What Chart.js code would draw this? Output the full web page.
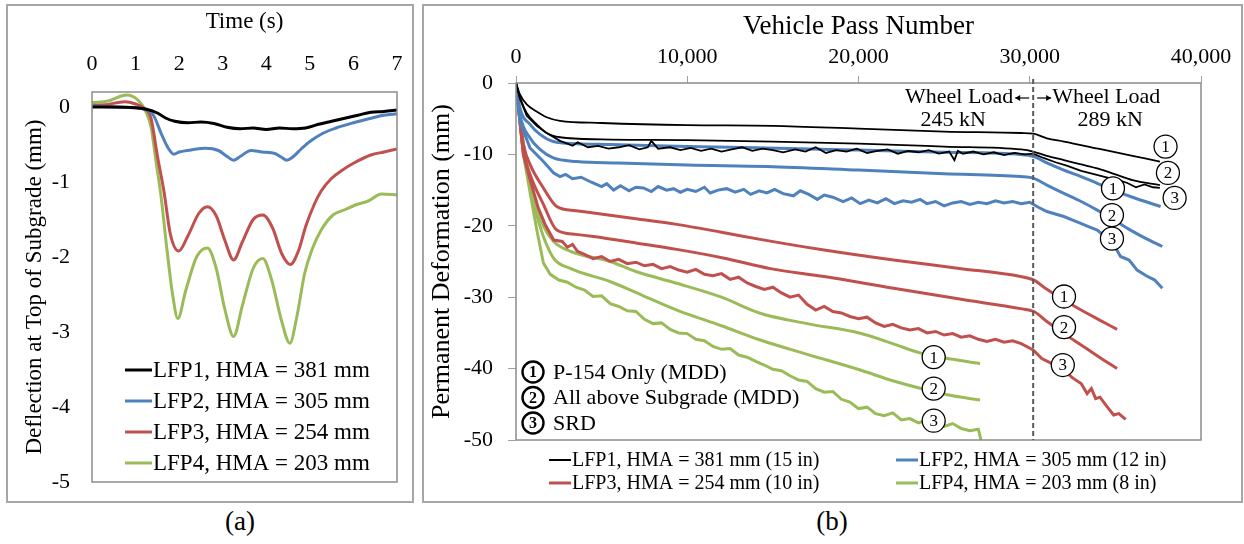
<!DOCTYPE html>
<html>
<head>
<meta charset="utf-8">
<script src="https://cdn.jsdelivr.net/npm/chart.js@4.4.0/dist/chart.umd.min.js"></script>
<style>
  body { margin: 0; background: #fff; width: 1244px; height: 544px; position: relative; overflow: hidden;
         font-family: 'Liberation Serif', 'Times New Roman', serif; }
  .box { position: absolute; border: 2px solid #a6a6a6; box-sizing: border-box; }
  canvas { position: absolute; }
  .cap { position: absolute; font-size: 27px; transform: translateX(-50%); }
</style>
</head>
<body>
<div class="box" style="left:6px;top:4px;width:408px;height:499px"></div>
<div class="box" style="left:422px;top:4px;width:821px;height:499px"></div>
<canvas id="chartA" width="406" height="497" style="left:7px;top:5px"></canvas>
<canvas id="chartB" width="820" height="497" style="left:423px;top:5px"></canvas>
<div class="cap" style="left:240px;top:506px">(a)</div>
<div class="cap" style="left:832px;top:506px">(b)</div>

<script>
const FONT = "'Liberation Serif', 'Times New Roman', serif";

// ---------- (a) deflection at top of subgrade ----------
const TIME_TICKS = [0, 1, 2, 3, 4, 5, 6, 7];
const DEFL_TICKS = [0, -1, -2, -3, -4, -5];

const T_LFP1 = [0, 0.5, 1.0, 1.25, 1.5, 1.7, 1.9, 2.2, 2.5, 2.8, 3.1, 3.4, 3.7, 4.0, 4.3, 4.6, 4.9, 5.2, 5.5, 5.8, 6.1, 6.4, 6.7, 7.0];
const D_LFP1 = [0, 0, -0.01, -0.03, -0.08, -0.15, -0.19, -0.21, -0.2, -0.22, -0.27, -0.29, -0.28, -0.3, -0.28, -0.29, -0.28, -0.23, -0.19, -0.15, -0.11, -0.07, -0.06, -0.04];

const T_LFP2 = [0, 0.5, 1.0, 1.2, 1.4, 1.6, 1.75, 1.88, 2.0, 2.3, 2.6, 2.9, 3.1, 3.25, 3.4, 3.65, 3.9, 4.2, 4.35, 4.47, 4.6, 4.8, 5.0, 5.3, 5.6, 6.0, 6.4, 6.7, 7.0];
const D_LFP2 = [0.01, 0, -0.01, -0.03, -0.1, -0.37, -0.55, -0.63, -0.6, -0.57, -0.55, -0.58, -0.66, -0.71, -0.66, -0.58, -0.6, -0.62, -0.67, -0.71, -0.67, -0.56, -0.46, -0.35, -0.28, -0.21, -0.15, -0.11, -0.09];

const T_LFP3 = [0, 0.3, 0.75, 1.0, 1.2, 1.35, 1.5, 1.65, 1.8, 1.99, 2.2, 2.45, 2.65, 2.85, 3.05, 3.25, 3.45, 3.7, 3.92, 4.15, 4.35, 4.55, 4.75, 4.9, 5.1, 5.26, 5.5, 5.75, 6.0, 6.4, 6.7, 7.0];
const D_LFP3 = [0.02, 0.03, 0.07, 0.04, -0.02, -0.14, -0.65, -1.12, -1.7, -1.92, -1.72, -1.42, -1.33, -1.45, -1.78, -2.04, -1.8, -1.5, -1.44, -1.62, -1.95, -2.1, -1.9, -1.6, -1.3, -1.12, -0.95, -0.84, -0.75, -0.64, -0.6, -0.56];

const T_LFP4 = [0, 0.37, 0.79, 1.06, 1.25, 1.36, 1.47, 1.58, 1.72, 1.85, 1.97, 2.15, 2.4, 2.65, 2.85, 3.05, 3.25, 3.45, 3.7, 3.92, 4.12, 4.35, 4.54, 4.7, 4.88, 5.05, 5.26, 5.53, 5.8, 6.03, 6.35, 6.64, 7.0];
const D_LFP4 = [0.06, 0.08, 0.16, 0.09, -0.08, -0.28, -0.73, -1.17, -1.9, -2.5, -2.82, -2.45, -2.0, -1.88, -2.15, -2.7, -3.06, -2.65, -2.15, -2.02, -2.3, -2.85, -3.15, -2.8, -2.22, -1.9, -1.64, -1.44, -1.37, -1.31, -1.25, -1.16, -1.17];

const NAMES_A = ['LFP1, HMA = 381 mm', 'LFP2, HMA = 305 mm', 'LFP3, HMA = 254 mm', 'LFP4, HMA = 203 mm'];

// ---------- (b) permanent deformation ----------
const PASS_TICKS = [0, 10000, 20000, 30000, 40000];
const PD_TICKS = [0, -10, -20, -30, -40, -50];
const LOAD_CHANGE = 30200;   // pass number where wheel load went 245 -> 289 kN

// LFP1: 1 = P-154 only (MDD), 2 = all above subgrade (MDD), 3 = SRD
const N_B1_1 = [0, 230, 625, 1210, 1790, 2570, 5000, 10000, 15000, 20000, 25000, 29500, 30200, 31000, 32000, 34000, 36000, 37600];
const V_B1_1 = [0, -1.6, -3.0, -4.0, -4.8, -5.3, -5.6, -5.9, -6.0, -6.4, -6.8, -7.0, -7.1, -7.75, -8.2, -9.2, -10.2, -11.0];
const N_B1_2 = [0, 230, 625, 1210, 1790, 2570, 5000, 10000, 15000, 20000, 25000, 29500, 30200, 31000, 32000, 33000, 34000, 35000, 36000, 37600];
const V_B1_2 = [0, -2.0, -4.2, -5.8, -7.0, -7.6, -7.9, -8.0, -8.2, -8.5, -8.9, -9.3, -9.6, -10.2, -10.8, -11.4, -12.0, -12.8, -13.6, -14.3];
const N_B1_3 = [0, 230, 625, 1210, 1790, 2570, 3000, 3300, 3600, 4200, 4800, 5400, 6000, 6600, 7200, 7700, 7900, 8300, 9000, 9600, 10200, 10800, 11400, 12000, 12600, 13200, 13800, 14400, 15000, 15600, 16300, 16900, 17500, 18100, 18700, 19300, 19900, 20500, 21100, 21700, 22300, 22900, 23500, 24100, 24700, 25300, 25600, 25800, 26100, 26700, 27300, 27900, 28500, 29100, 29700, 30200, 30800, 31500, 32200, 33000, 33800, 34600, 35200, 35700, 36200, 36700, 37200, 37600];
const V_B1_3 = [0, -2.2, -4.6, -6.0, -7.0, -8.1, -8.5, -8.8, -8.3, -9.0, -8.8, -9.2, -9.0, -8.7, -9.3, -9.0, -8.1, -9.2, -9.0, -9.4, -9.1, -9.5, -9.2, -9.6, -9.3, -9.0, -9.5, -9.2, -9.4, -9.7, -9.3, -9.6, -9.0, -9.8, -9.4, -9.6, -9.2, -9.8, -9.5, -9.3, -9.9, -9.5, -9.7, -9.4, -9.9, -9.6, -10.8, -9.5, -9.9, -9.6, -10.0, -9.7, -10.1, -9.8, -10.0, -9.9, -10.5, -11.1, -11.6, -12.3, -12.8, -13.3, -13.6, -14.0, -14.6, -14.2, -14.6, -14.7];

// LFP2
const N_B2_1 = [0, 230, 820, 1400, 2180, 3500, 5490, 10000, 14650, 20000, 25000, 29460, 30240, 31000, 31990, 33000, 33940, 35000, 36000, 37640];
const V_B2_1 = [0, -3.5, -5.8, -7.2, -8.2, -8.5, -8.6, -8.9, -9.1, -9.4, -9.7, -10.0, -10.3, -11.2, -12.2, -13.1, -14.05, -15.1, -16.0, -17.3];
const N_B2_2 = [0, 230, 820, 1400, 2180, 3550, 6000, 10000, 14650, 20000, 25000, 29460, 30240, 31000, 31990, 33000, 33940, 35000, 35880, 36800, 37740];
const V_B2_2 = [0, -4.4, -7.7, -9.3, -10.5, -11.0, -11.2, -11.5, -11.7, -12.2, -12.7, -13.1, -13.35, -14.3, -15.45, -16.6, -17.8, -19.3, -20.6, -21.8, -22.9];
const N_B2_3 = [0, 230, 820, 1600, 2200, 2570, 2900, 3300, 3800, 4400, 5000, 5300, 5700, 6100, 6600, 7000, 7440, 7900, 8300, 8800, 9200, 9600, 10000, 10500, 11000, 11340, 11800, 12300, 12800, 13300, 13700, 14200, 14650, 15100, 15600, 16200, 16600, 17100, 17600, 18000, 18500, 19100, 19600, 20100, 20600, 21100, 21600, 22100, 22600, 23100, 23600, 24000, 24500, 25000, 25500, 26000, 26500, 27000, 27500, 28000, 28500, 29000, 29500, 30000, 30500, 31000, 31990, 32800, 33500, 33940, 34400, 34900, 35300, 35800, 36270, 36800, 37300, 37740];
const V_B2_3 = [0, -5.4, -9.1, -11.0, -12.6, -13.1, -12.8, -13.4, -13.2, -13.9, -14.5, -14.1, -15.0, -14.4, -15.1, -14.6, -14.7, -15.2, -14.5, -15.0, -14.8, -15.3, -14.9, -15.2, -14.6, -15.4, -15.0, -14.8, -15.3, -14.9, -15.6, -15.1, -15.4, -14.9, -15.5, -15.8, -15.1, -15.6, -16.3, -15.7, -16.0, -16.6, -16.1, -16.9, -16.4, -16.8, -16.2, -16.9, -16.5, -16.7, -16.3, -16.9, -16.6, -17.2, -16.8, -16.6, -17.0, -16.7, -16.9, -16.5, -16.8, -16.6, -16.9, -16.7, -17.4, -18.0, -18.7, -19.5, -20.2, -20.6, -21.5, -22.6, -24.3, -24.8, -26.2, -27.0, -27.6, -28.75];

// LFP3
const N_B3_1 = [0, 430, 820, 1600, 2380, 3500, 4520, 7000, 9390, 12000, 14260, 18000, 22050, 26000, 29460, 30240, 31000, 31990, 33000, 34000, 35100];
const V_B3_1 = [0, -8.5, -11.4, -14.7, -17.3, -17.9, -18.2, -19.0, -19.8, -20.9, -21.9, -23.4, -24.8, -26.0, -27.1, -27.6, -28.9, -30.4, -31.8, -33.1, -34.5];
const N_B3_2 = [0, 430, 820, 1600, 2380, 3500, 4520, 7000, 9390, 12100, 14850, 18000, 22050, 26000, 29460, 30240, 31000, 32000, 33000, 34000, 35100];
const V_B3_2 = [0, -9.5, -12.8, -17.0, -20.6, -21.2, -21.5, -22.4, -23.3, -24.5, -26.0, -27.1, -28.75, -30.3, -31.6, -32.0, -33.4, -35.1, -36.7, -38.3, -40.0];
const N_B3_3 = [0, 430, 820, 1300, 1700, 2200, 2700, 3000, 3300, 3600, 4000, 4500, 5000, 5500, 6000, 6500, 7000, 7500, 8000, 8500, 9000, 9500, 10000, 10500, 11000, 11500, 12000, 12500, 13000, 13500, 14000, 14500, 15000, 15500, 16000, 16500, 17000, 17500, 18000, 18500, 19000, 19500, 20000, 20500, 21000, 21500, 22000, 22500, 23000, 23500, 24000, 24500, 25000, 25500, 26000, 26500, 27000, 27500, 28000, 28500, 29000, 29500, 30200, 30700, 31300, 31990, 32500, 33000, 33350, 33600, 33850, 34100, 34500, 34900, 35200, 35600];
const V_B3_3 = [0, -10.0, -13.5, -17.5, -19.8, -22.0, -22.2, -23.0, -22.6, -23.6, -24.0, -24.6, -24.3, -25.0, -24.7, -25.3, -25.1, -25.6, -25.4, -26.0, -25.7, -26.2, -26.5, -26.1, -26.8, -27.0, -26.7, -27.5, -27.2, -28.0, -28.5, -28.9, -28.6, -29.4, -30.0, -29.7, -31.0, -31.8, -31.3, -32.0, -32.2, -32.7, -33.0, -32.8, -33.6, -34.1, -33.8, -34.3, -34.6, -34.4, -35.0, -34.8, -35.3, -35.1, -35.6, -35.4, -35.9, -36.2, -35.9, -36.3, -36.1, -36.5, -37.4, -38.6, -39.3, -40.2, -41.3, -42.1, -43.5, -42.8, -44.2, -44.0, -45.3, -46.5, -46.3, -47.1];

// LFP4
const N_B4_1 = [0, 430, 820, 1100, 1600, 2200, 3200, 5490, 7000, 9390, 12000, 14260, 17000, 20100, 22000, 23600, 25500, 27100];
const V_B4_1 = [0, -8.5, -13.5, -16.4, -20.0, -22.2, -23.6, -25.0, -26.4, -28.05, -30.0, -32.25, -33.7, -35.05, -36.5, -37.8, -38.7, -39.3];
const N_B4_2 = [0, 430, 820, 1100, 1600, 2200, 3200, 5490, 7440, 9390, 12000, 14260, 17000, 20100, 22000, 23600, 25500, 27100];
const V_B4_2 = [0, -9.5, -14.5, -17.5, -21.5, -24.55, -26.0, -27.8, -29.8, -31.8, -34.0, -36.0, -38.0, -40.2, -41.7, -42.75, -43.8, -44.4];
const N_B4_3 = [0, 430, 900, 1250, 1600, 2000, 2500, 3000, 3500, 4000, 4500, 5000, 5500, 6000, 6500, 7000, 7500, 8000, 8500, 9000, 9500, 10000, 10500, 11000, 11500, 12000, 12500, 13000, 13500, 14000, 14500, 15000, 15500, 16000, 16500, 17000, 17500, 18000, 18500, 19000, 19500, 20000, 20500, 21000, 21500, 22000, 22500, 23000, 23500, 24000, 24500, 25000, 25500, 26000, 26500, 27000, 27200];
const V_B4_3 = [0, -10.0, -16.4, -21.0, -25.2, -26.8, -27.6, -27.9, -28.6, -29.0, -29.9, -29.8, -30.9, -31.3, -31.9, -32.0, -33.1, -33.7, -33.6, -34.5, -35.0, -35.1, -35.9, -36.1, -36.9, -37.3, -37.2, -38.1, -38.4, -39.0, -39.5, -40.1, -40.3, -41.0, -41.6, -41.8, -42.8, -43.3, -43.2, -44.3, -44.7, -45.6, -45.4, -46.3, -46.6, -46.2, -47.2, -47.0, -47.6, -47.2, -47.8, -48.1, -47.7, -48.4, -48.7, -48.5, -50.5];

const NAMES_B = ['LFP1, HMA = 381 mm (15 in)', 'LFP2, HMA = 305 mm (12 in)', 'LFP3, HMA = 254 mm (10 in)', 'LFP4, HMA = 203 mm (8 in)'];
const MEASURES = ['P-154 Only (MDD)', 'All above Subgrade (MDD)', 'SRD'];

const COLORS = ['#000000', '#4f81bd', '#c0504d', '#9bbb59'];

const pts = (xs, ys) => xs.map((x, i) => ({ x: x, y: ys[i] }));

// no label overhang: plot area is set by the fixed axis sizes and layout padding
function fixX(h) {
  return s => { s.height = h; s.paddingLeft = 0; s.paddingRight = 0; };
}
function fixY(w) {
  return s => { s.width = w; s.paddingTop = 0; s.paddingBottom = 0; };
}

// ---------- chart (a) ----------
const panelA = {
  id: 'panelA',
  afterDraw(chart) {
    const { ctx, chartArea: a } = chart;
    ctx.save();
    ctx.strokeStyle = '#8c8c8c';
    ctx.lineWidth = 1.5;
    ctx.strokeRect(a.left, a.top, a.right - a.left, a.bottom - a.top);
    ctx.font = '23px ' + FONT;
    ctx.textBaseline = 'middle';
    ctx.fillStyle = '#000';
    NAMES_A.forEach((name, i) => {
      const y = a.top + 278 + i * 31;
      ctx.strokeStyle = COLORS[i];
      ctx.lineWidth = 3;
      ctx.beginPath();
      ctx.moveTo(a.left + 33, y);
      ctx.lineTo(a.left + 60, y);
      ctx.stroke();
      ctx.fillText(name, a.left + 61, y + 1);
    });
    ctx.restore();
  }
};

const seriesA = [[T_LFP1, D_LFP1], [T_LFP2, D_LFP2], [T_LFP3, D_LFP3], [T_LFP4, D_LFP4]];

new Chart(document.getElementById('chartA'), {
  type: 'line',
  data: {
    datasets: seriesA.map((s, i) => ({
      label: NAMES_A[i],
      data: pts(s[0], s[1]),
      borderColor: COLORS[i],
      borderWidth: 3,
      pointRadius: 0,
      cubicInterpolationMode: 'monotone',
      fill: false
    }))
  },
  options: {
    responsive: false,
    animation: false,
    layout: { padding: { left: 0, right: 16, top: 0, bottom: 20 } },
    plugins: { legend: { display: false }, tooltip: { enabled: false } },
    scales: {
      x: {
        type: 'linear', position: 'top', min: 0, max: 7,
        afterBuildTicks: s => { s.ticks = TIME_TICKS.map(v => ({ value: v })); },
        afterFit: fixX(87),
        grid: { display: false, drawTicks: false },
        border: { display: false },
        ticks: { font: { family: FONT, size: 22 }, color: '#000', padding: 15, maxRotation: 0 },
        title: { display: true, text: 'Time (s)', font: { family: FONT, size: 23 }, color: '#000', padding: { top: 3, bottom: 0 } }
      },
      y: {
        type: 'linear', min: -5, max: 0.2,
        afterBuildTicks: s => { s.ticks = DEFL_TICKS.map(v => ({ value: v })); },
        afterFit: fixY(85),
        grid: { display: false, drawTicks: false },
        border: { display: false },
        ticks: { font: { family: FONT, size: 22 }, color: '#000', padding: 22 },
        title: { display: true, text: 'Deflection at Top of Subgrade (mm)', font: { family: FONT, size: 23 }, color: '#000', padding: { top: 14, bottom: 0 } }
      }
    }
  },
  plugins: [panelA]
});

// ---------- chart (b) ----------
const TAGS = [
  [0, '1', 37930, -8.9], [0, '2', 38070, -12.6], [0, '3', 38460, -16.1],
  [1, '1', 34860, -14.75], [1, '2', 34800, -18.5], [1, '3', 34800, -21.8],
  [2, '1', 32000, -29.9], [2, '2', 32000, -34.2], [2, '3', 31930, -39.5],
  [3, '1', 24390, -38.4], [3, '2', 24390, -42.8], [3, '3', 24390, -47.3]
];

function arrow(ctx, x0, x1, y) {
  const d = x1 > x0 ? 1 : -1;
  ctx.beginPath();
  ctx.moveTo(x0, y);
  ctx.lineTo(x1, y);
  ctx.stroke();
  ctx.beginPath();
  ctx.moveTo(x1, y);
  ctx.lineTo(x1 - d * 5, y - 3);
  ctx.lineTo(x1 - d * 5, y + 3);
  ctx.closePath();
  ctx.fill();
}

const panelB = {
  id: 'panelB',
  afterDraw(chart) {
    const { ctx, chartArea: a, scales: { x, y } } = chart;
    ctx.save();
    ctx.strokeStyle = '#8c8c8c';
    ctx.lineWidth = 1.5;
    ctx.strokeRect(a.left, a.top, a.right - a.left, a.bottom - a.top);

    // load change divider
    const xd = x.getPixelForValue(LOAD_CHANGE);
    ctx.strokeStyle = '#595959';
    ctx.lineWidth = 2;
    ctx.setLineDash([5, 3]);
    ctx.beginPath();
    ctx.moveTo(xd, a.top - 4);
    ctx.lineTo(xd, a.bottom);
    ctx.stroke();
    ctx.setLineDash([]);

    ctx.fillStyle = '#000';
    ctx.strokeStyle = '#000';
    ctx.lineWidth = 1.2;
    ctx.font = '22px ' + FONT;
    ctx.textBaseline = 'middle';
    ctx.textAlign = 'right';
    ctx.fillText('Wheel Load', xd - 20, a.top + 14);
    ctx.textAlign = 'left';
    ctx.fillText('Wheel Load', xd + 19, a.top + 14);
    ctx.textAlign = 'center';
    ctx.fillText('245 kN', xd - 80, a.top + 37);
    ctx.fillText('289 kN', xd + 77, a.top + 37);
    arrow(ctx, xd - 4, xd - 18, a.top + 15);
    arrow(ctx, xd + 4, xd + 18, a.top + 15);

    // circled curve tags
    ctx.font = '17px ' + FONT;
    TAGS.forEach(t => {
      const px = x.getPixelForValue(t[2]);
      const py = y.getPixelForValue(t[3]);
      ctx.beginPath();
      ctx.arc(px, py, 11.5, 0, Math.PI * 2);
      ctx.fillStyle = '#fff';
      ctx.fill();
      ctx.lineWidth = 1.3;
      ctx.strokeStyle = '#000';
      ctx.stroke();
      ctx.fillStyle = '#000';
      ctx.fillText(t[1], px, py + 1);
    });

    // measurement key
    MEASURES.forEach((m, i) => {
      const cy = a.top + 289 + i * 25.5;
      const cx = a.left + 17;
      ctx.beginPath();
      ctx.arc(cx, cy, 10.5, 0, Math.PI * 2);
      ctx.lineWidth = 2.4;
      ctx.strokeStyle = '#000';
      ctx.stroke();
      ctx.font = 'bold 16px ' + FONT;
      ctx.textAlign = 'center';
      ctx.fillText(String(i + 1), cx, cy + 1);
      ctx.font = '22px ' + FONT;
      ctx.textAlign = 'left';
      ctx.fillText(m, a.left + 37, cy + 1);
    });

    // series legend below plot
    ctx.font = '20px ' + FONT;
    ctx.textAlign = 'left';
    NAMES_B.forEach((name, i) => {
      const col = i % 2, row = Math.floor(i / 2);
      const lx = a.left + 33 + col * 347;
      const ly = a.bottom + 20 + row * 23;
      ctx.strokeStyle = COLORS[i];
      ctx.lineWidth = i === 0 ? 2 : 3;
      ctx.beginPath();
      ctx.moveTo(lx, ly);
      ctx.lineTo(lx + 22, ly);
      ctx.stroke();
      ctx.fillText(name, lx + 23, ly + 1);
    });
    ctx.restore();
  }
};

const seriesB = [
  [0, N_B1_1, V_B1_1, false], [0, N_B1_2, V_B1_2, false], [0, N_B1_3, V_B1_3, true],
  [1, N_B2_1, V_B2_1, false], [1, N_B2_2, V_B2_2, false], [1, N_B2_3, V_B2_3, true],
  [2, N_B3_1, V_B3_1, false], [2, N_B3_2, V_B3_2, false], [2, N_B3_3, V_B3_3, true],
  [3, N_B4_1, V_B4_1, false], [3, N_B4_2, V_B4_2, false], [3, N_B4_3, V_B4_3, true]
];

new Chart(document.getElementById('chartB'), {
  type: 'line',
  data: {
    datasets: seriesB.map(s => ({
      data: pts(s[1], s[2]),
      borderColor: COLORS[s[0]],
      borderWidth: s[0] === 0 ? 1.8 : 3,
      pointRadius: 0,
      cubicInterpolationMode: s[3] ? 'default' : 'monotone',
      tension: 0,
      fill: false
    }))
  },
  options: {
    responsive: false,
    animation: false,
    layout: { padding: { left: 0, right: 42, top: 0, bottom: 62 } },
    plugins: { legend: { display: false }, tooltip: { enabled: false } },
    scales: {
      x: {
        type: 'linear', position: 'top', min: 0, max: 40000,
        afterBuildTicks: s => { s.ticks = PASS_TICKS.map(v => ({ value: v })); },
        afterFit: fixX(78),
        grid: { display: true, drawOnChartArea: false, drawTicks: true, tickLength: 7, color: '#a0a0a0' },
        border: { display: false },
        ticks: { font: { family: FONT, size: 22 }, color: '#000', padding: 6, maxRotation: 0 },
        title: { display: true, text: 'Vehicle Pass Number', font: { family: FONT, size: 27 }, color: '#000', padding: { top: 6, bottom: 0 } }
      },
      y: {
        type: 'linear', min: -50, max: 0,
        afterBuildTicks: s => { s.ticks = PD_TICKS.map(v => ({ value: v })); },
        afterFit: fixY(93),
        grid: { display: true, drawOnChartArea: false, drawTicks: true, tickLength: 8, color: '#a0a0a0' },
        border: { display: false },
        ticks: { font: { family: FONT, size: 22 }, color: '#000', padding: 15 },
        title: { display: true, text: 'Permanent Deformation (mm)', font: { family: FONT, size: 26 }, color: '#000', padding: { top: 4, bottom: 0 } }
      }
    }
  },
  plugins: [panelB]
});
</script>
</body>
</html>
